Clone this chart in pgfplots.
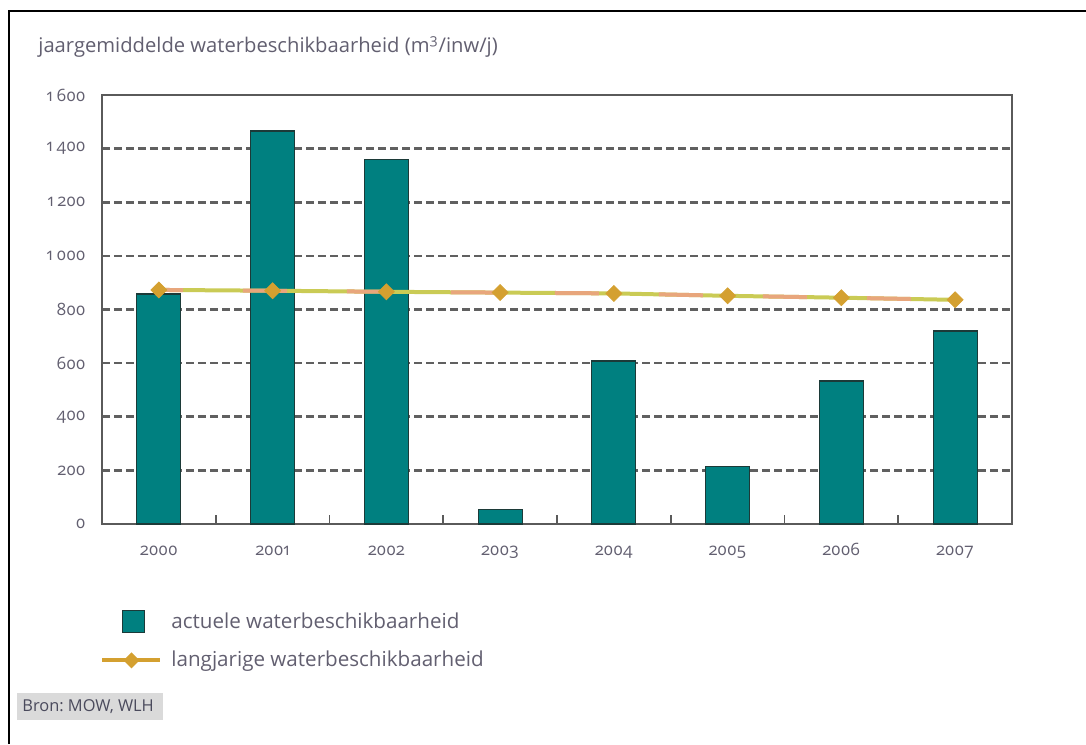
\documentclass[border=0pt]{standalone}
\usepackage{fontspec}
\setmainfont{Open Sans}[Numbers=OldStyle]
\usepackage{pgfplots}
\pgfplotsset{compat=1.18}
\frenchspacing
\definecolor{barteal}{HTML}{008080}
\definecolor{barline}{HTML}{1C3A38}
\definecolor{gold}{HTML}{D4A030}
\definecolor{linegreen}{HTML}{CACB55}
\definecolor{lineorange}{HTML}{E8A67C}
\definecolor{axisgray}{HTML}{5A5A5A}
\definecolor{gridgray}{HTML}{606060}
\definecolor{txtgray}{HTML}{625F70}
\definecolor{srcgray}{HTML}{DADADA}
\definecolor{srctxt}{HTML}{4A4A5C}
\pgfplotstableread{
x actual longterm
0 858 873
1 1466 870
2 1358 866
3 55 863
4 608 860
5 214 851
6 533 844
7 720 836
}\datatable
\begin{document}
\begin{tikzpicture}
\useasboundingbox (0,0) rectangle (543pt,372pt);
\draw[line width=1.1pt, black] (4.5pt,0pt) -- (4.5pt,366.5pt) -- (543pt,366.5pt);
\node[anchor=west, inner sep=0pt, text=txtgray, font=\fontsize{10.1}{12}\selectfont] at (19pt,348.5pt) {jaargemiddelde waterbeschikbaarheid (m\textsuperscript{3}/inw/j)};
\fill[srcgray] (8.5pt,12pt) rectangle (81.5pt,25.5pt);
\node[anchor=west, inner sep=0pt, text=srctxt, font=\fontsize{8.2}{9}\selectfont] at (11pt,18.75pt) {Bron: MOW, WLH};
\begin{axis}[
  at={(51pt,110pt)}, anchor=south west,
  scale only axis, width=455pt, height=214.5pt,
  xmin=-0.5, xmax=7.5, ymin=0, ymax=1600,
  axis line style={draw=axisgray, line width=1pt},
  xtick={0,...,7}, xticklabels={2000,2001,2002,2003,2004,2005,2006,2007},
  ytick={0,200,...,1600},
  ymajorgrids,
  major grid style={dash pattern=on 4pt off 2pt, line width=1.3pt, draw=gridgray},
  major tick length=0pt,
  extra x ticks={0.5,1.5,...,6.5}, extra x tick labels={},
  extra x tick style={major tick length=4.5pt, tick align=inside, xtick pos=lower, tick style={draw=axisgray, line width=0.9pt}},
  /pgf/number format/assume math mode=true,
  /pgf/number format/1000 sep={\hspace{0.22em}},
  tick label style={text=txtgray, font=\fontsize{8.5}{10}\selectfont},
  yticklabel style={anchor=east, inner sep=0pt},
  yticklabel shift=8pt,
  xticklabel style={anchor=base, inner sep=0pt},
  xticklabel shift=15.5pt,
  clip=false,
  legend style={at={(0,0)}, anchor=north west, xshift=-1pt, yshift=-42pt, draw=none, fill=none, inner sep=0pt,
    font=\fontsize{10.3}{12}\selectfont, text=txtgray, row sep=6pt, cells={anchor=west},
    nodes={inner xsep=4.5pt}},
  legend cell align=left,
]
\addplot[ybar, bar width=22pt, fill=barteal, draw=barline, line width=0.6pt,
  legend image code/.code={\draw[fill=barteal, draw=barline, line width=0.6pt] (10pt,-5.5pt) rectangle (21pt,5.5pt);}]
  table[x=x, y=actual] {\datatable};
\addlegendentry{actuele waterbeschikbaarheid}
\addplot[color=linegreen, line width=2pt, forget plot] table[x=x, y=longterm] {\datatable};
\addplot[color=lineorange, line width=2pt, dash pattern=on 22pt off 30pt, dash phase=10pt, forget plot] table[x=x, y=longterm] {\datatable};
\addplot[draw=none, mark=square*, mark size=2.8pt, mark options={rotate=45, fill=gold, draw=gold},
  legend image code/.code={\draw[gold, line width=2pt] (0pt,0pt) -- (29pt,0pt);
    \fill[gold] (14.5pt,4pt) -- (18.5pt,0pt) -- (14.5pt,-4pt) -- (10.5pt,0pt) -- cycle;}]
  table[x=x, y=longterm] {\datatable};
\addlegendentry{langjarige waterbeschikbaarheid}
\end{axis}
\end{tikzpicture}
\end{document}
